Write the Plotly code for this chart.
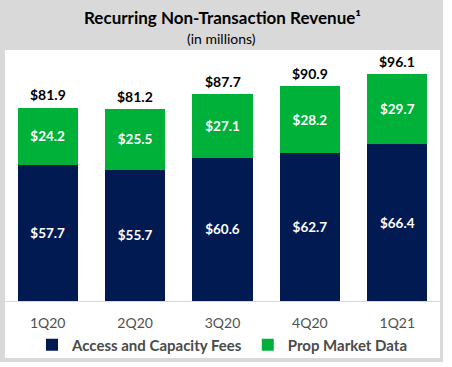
import plotly.graph_objects as go

quarters = ["1Q20", "2Q20", "3Q20", "4Q20", "1Q21"]
access_fees = [57.7, 55.7, 60.6, 62.7, 66.4]
prop_data = [24.2, 25.5, 27.1, 28.2, 29.7]
totals = [81.9, 81.2, 87.7, 90.9, 96.1]

NAVY = "#021a52"
GREEN = "#00b139"
FONT = "Lato"

W, H = 452, 367
L, R_PX = 4, 441
T, B_PX = 60, 301
pw, ph = R_PX - L, B_PX - T


def px_x(x):
    return (x - L) / pw


def px_y(y):
    return (B_PX - y) / ph


fig = go.Figure()
fig.add_trace(go.Bar(
    x=quarters, y=access_fees, name="Access and Capacity Fees",
    marker=dict(color=NAVY, line=dict(width=0)),
    text=[f"${v:.1f}" for v in access_fees], textposition="inside",
    insidetextanchor="middle",
    textfont=dict(family=FONT, size=13.5, color="white", weight="bold"),
))
fig.add_trace(go.Bar(
    x=quarters, y=prop_data, name="Prop Market Data",
    marker=dict(color=GREEN, line=dict(width=0)),
    text=[f"${v:.1f}" for v in prop_data], textposition="inside",
    insidetextanchor="middle",
    textfont=dict(family=FONT, size=13.5, color="white", weight="bold"),
))

shapes = [
    dict(type="rect", xref="paper", yref="paper", layer="below",
         x0=px_x(0), x1=px_x(443), y0=px_y(362), y1=px_y(0),
         fillcolor="#d9d9d9", line=dict(width=0)),
    dict(type="rect", xref="paper", yref="paper", layer="below",
         x0=px_x(5), x1=px_x(440), y0=px_y(358), y1=px_y(50),
         fillcolor="white", line=dict(width=0)),
]

annotations = [
    dict(text="Recurring Non-Transaction Revenue¹", xref="paper", yref="paper",
         x=px_x(222), y=px_y(18), showarrow=False, xanchor="center", yanchor="middle",
         font=dict(family=FONT, size=17, color="black", weight="bold")),
    dict(text="(in millions)", xref="paper", yref="paper",
         x=px_x(221), y=px_y(38), showarrow=False, xanchor="center", yanchor="middle",
         font=dict(family=FONT, size=14, color="black")),
]
for q, t in zip(quarters, totals):
    annotations.append(dict(
        text=f"${t:.1f}", x=q, y=t, xref="x", yref="y", showarrow=False,
        xanchor="center", yanchor="middle", yshift=13,
        font=dict(family=FONT, size=14, color="black", weight="bold")))

fig.update_layout(
    width=W, height=H, barmode="stack", bargap=0.31,
    margin=dict(l=L, r=W - R_PX, t=T, b=H - B_PX, pad=0),
    paper_bgcolor="white", plot_bgcolor="rgba(0,0,0,0)",
    shapes=shapes, annotations=annotations,
    showlegend=True,
    legend=dict(orientation="h", x=0.5, xanchor="center", y=px_y(345), yanchor="middle",
                font=dict(family=FONT, size=15, color="#4a4a4a", weight="bold"),
                bgcolor="rgba(0,0,0,0)", itemclick=False, traceorder="normal"),
)
fig.update_xaxes(showline=True, linecolor="#d9d9d9", linewidth=1, showgrid=False,
                 ticks="outside", ticklen=9, tickcolor="rgba(0,0,0,0)",
                 tickfont=dict(family=FONT, size=14, color="#505050"), fixedrange=True)
fig.update_yaxes(range=[0, ph / 2.36], visible=False, showgrid=False, fixedrange=True)

fig.write_html("out.html", config={"displayModeBar": False},
               post_script="document.body.style.margin='0';")
